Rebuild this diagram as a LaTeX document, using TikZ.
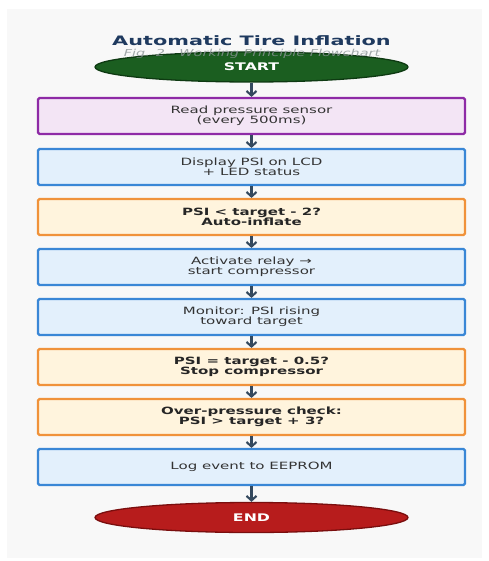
\documentclass[tikz,border=0pt]{standalone}
\usepackage{fontspec}
\setmainfont{DejaVu Sans}
\newfontfamily\bodyfont[FakeStretch=1.5]{DejaVu Sans}
\newfontfamily\titlefont[FakeStretch=1.6]{DejaVu Sans}
\usetikzlibrary{shapes.geometric,arrows.meta}
\definecolor{panelbg}{HTML}{F8F8F8}
\definecolor{titlecol}{HTML}{1F3A5F}
\definecolor{subcol}{HTML}{8A9496}
\definecolor{startfill}{HTML}{1B5E20}
\definecolor{startdraw}{HTML}{0E3A12}
\definecolor{endfill}{HTML}{B71C1C}
\definecolor{enddraw}{HTML}{7A0E0E}
\definecolor{purpdraw}{HTML}{8E2BA6}
\definecolor{purpfill}{HTML}{F3E5F5}
\definecolor{bluedraw}{HTML}{3A87D6}
\definecolor{bluefill}{HTML}{E3F0FC}
\definecolor{orgdraw}{HTML}{F0923A}
\definecolor{orgfill}{HTML}{FFF4DD}
\definecolor{arrcol}{HTML}{34495E}
\definecolor{txtcol}{HTML}{333333}
\tikzset{
  box/.style={draw, line width=2.2pt, rounded corners=1.5pt, minimum width=427pt, minimum height=36pt,
    inner sep=0pt, align=center, text=txtcol, font=\bodyfont\fontsize{10}{9.8}\selectfont},
  purpbox/.style={box, draw=purpdraw, fill=purpfill},
  bluebox/.style={box, draw=bluedraw, fill=bluefill},
  orgbox/.style={box, draw=orgdraw, fill=orgfill, font=\bodyfont\bfseries\fontsize{10}{9.8}\selectfont, text=black!85},
  term/.style={ellipse, line width=1.3pt, minimum width=313pt, minimum height=30pt, inner sep=0pt,
    text=white, font=\bodyfont\bfseries\fontsize{10.5}{11}\selectfont},
  flow/.style={draw=arrcol, line width=2.1pt, -{Straight Barb[length=4.5pt,width=10pt,line width=2.1pt]}}
}
\begin{document}
\begin{tikzpicture}[x=1pt,y=-1pt]
\useasboundingbox (0,0) rectangle (488,561);
\fill[panelbg] (7,9) rectangle (482,558);
\node[font=\titlefont\bfseries\fontsize{13}{14}\selectfont, text=titlecol] (title) at (251.5,41) {Automatic Tire Inflation};
\node[term, fill=startfill, draw=startdraw] (start) at (251.5,67) {START};
\node[font=\bodyfont\itshape\fontsize{9.6}{10}\selectfont, text=subcol, opacity=0.8] (sub) at (252,53.5) {Fig. 2 - Working Principle Flowchart};
\node[purpbox] (b1) at (251.5,116) {Read pressure sensor\\(every 500ms)};
\node[bluebox] (b2) at (251.5,167) {Display PSI on LCD\\+ LED status};
\node[orgbox] (b3) at (251.5,217) {PSI < target - 2?\\Auto-inflate};
\node[bluebox] (b4) at (251.5,267) {Activate relay →\\start compressor};
\node[bluebox] (b5) at (251.5,317) {Monitor: PSI rising\\toward target};
\node[orgbox] (b6) at (251.5,367) {PSI = target - 0.5?\\Stop compressor};
\node[orgbox] (b7) at (251.5,417) {Over-pressure check:\\PSI > target + 3?};
\node[bluebox] (b8) at (251.5,467) {Log event to EEPROM};
\node[term, fill=endfill, draw=enddraw] (end) at (251.5,517.5) {END};
\draw[flow] (start) -- (b1);
\draw[flow] (b1) -- (b2);
\draw[flow] (b2) -- (b3);
\draw[flow] (b3) -- (b4);
\draw[flow] (b4) -- (b5);
\draw[flow] (b5) -- (b6);
\draw[flow] (b6) -- (b7);
\draw[flow] (b7) -- (b8);
\draw[flow] (b8) -- (end);
\end{tikzpicture}
\end{document}
